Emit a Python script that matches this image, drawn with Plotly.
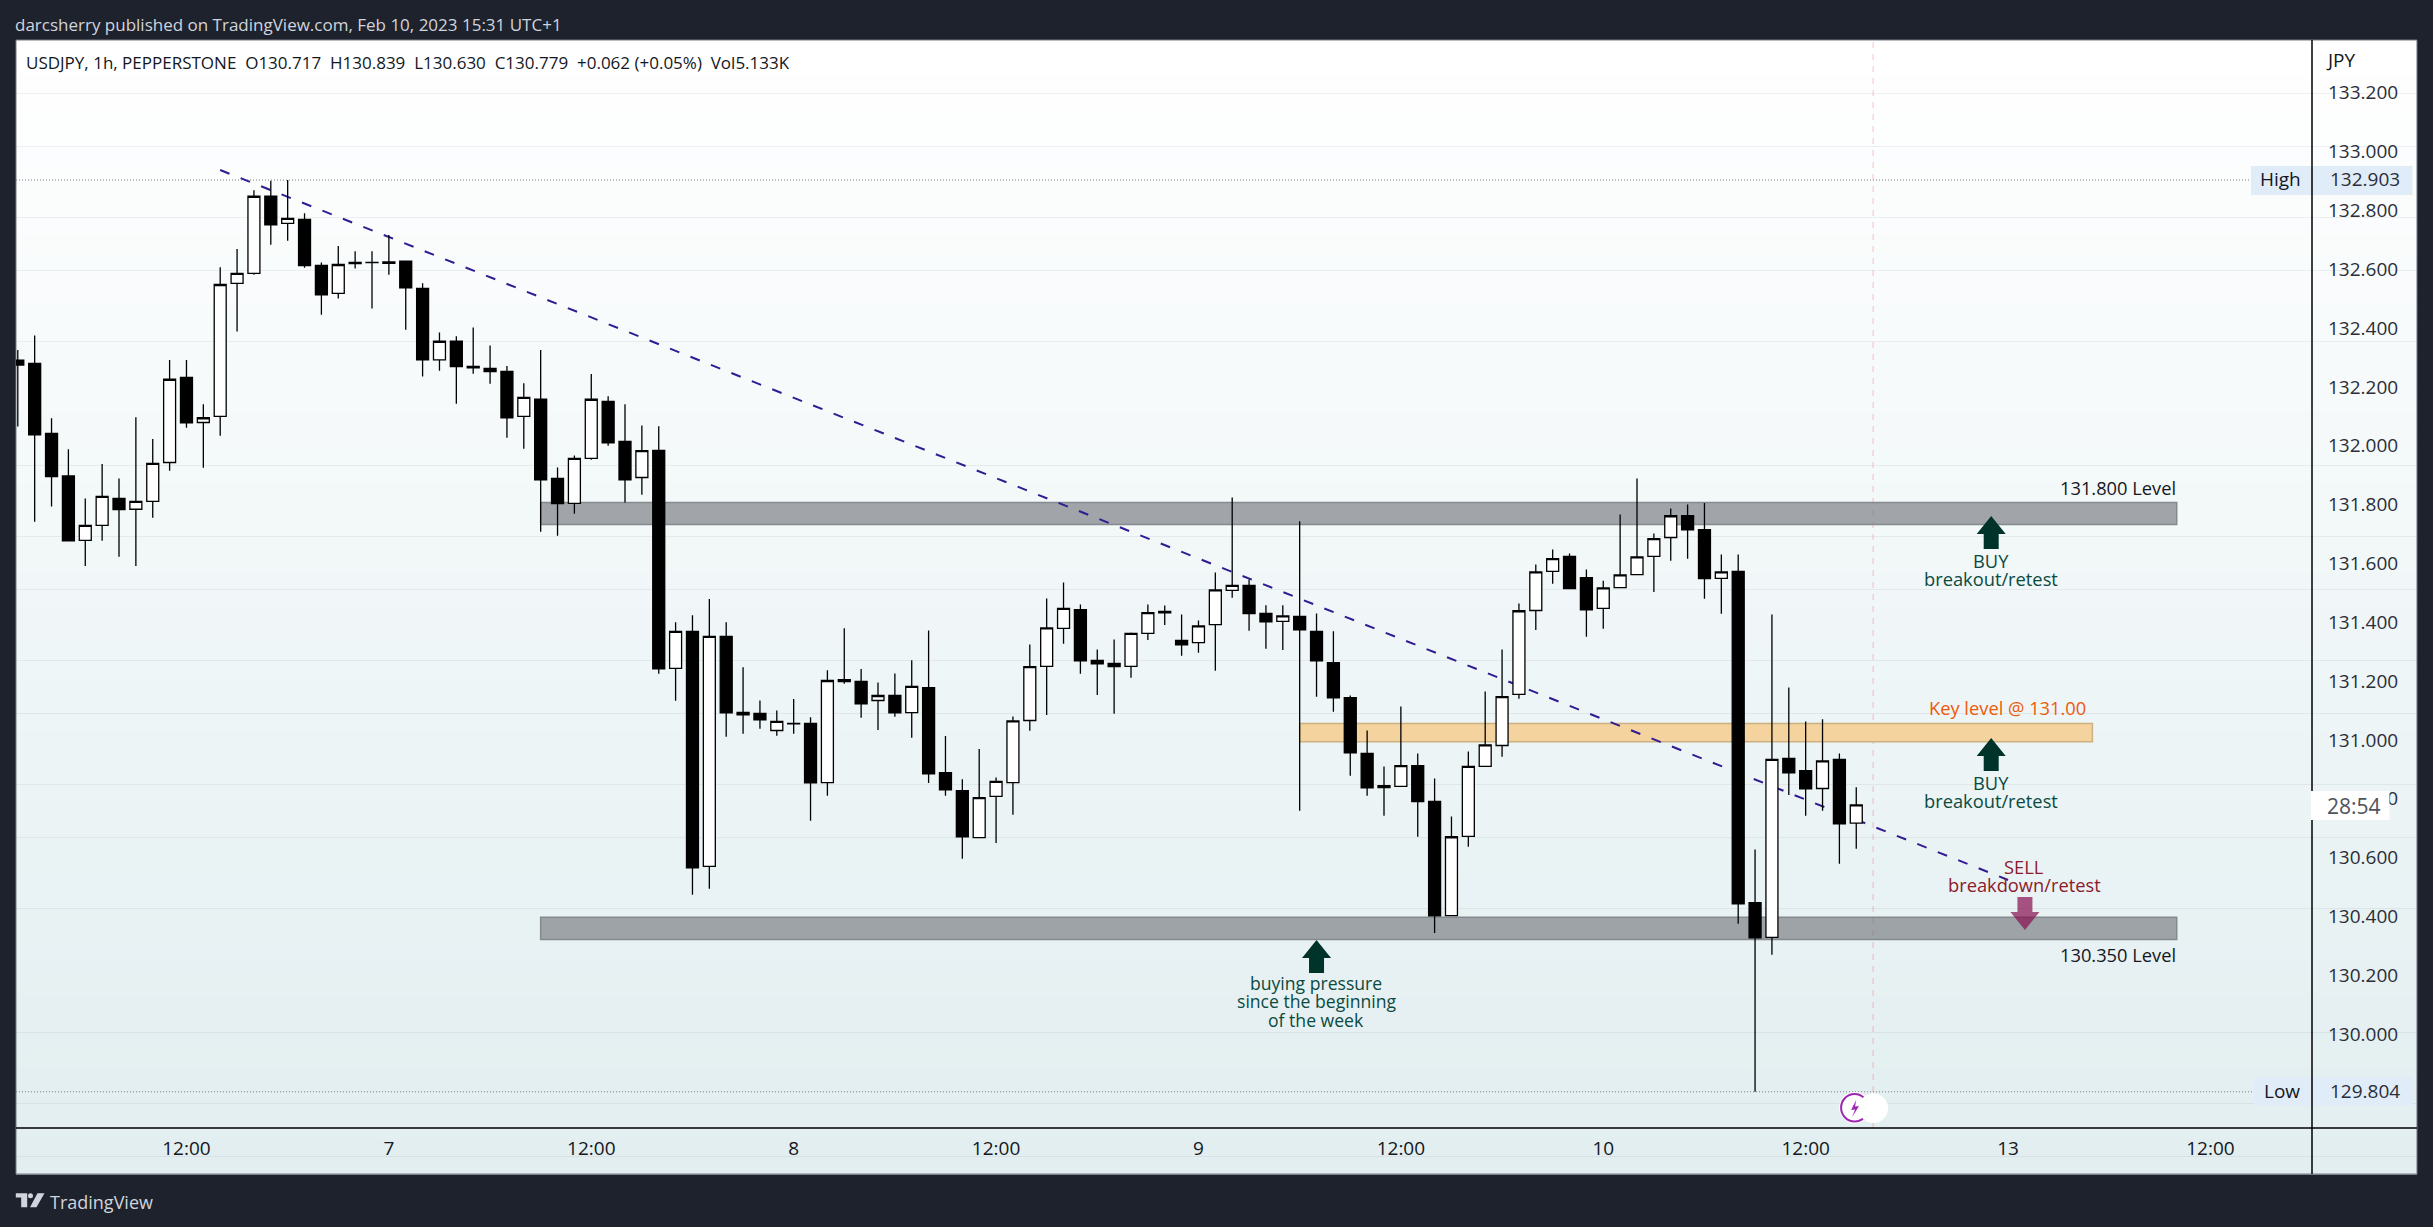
import plotly.graph_objects as go

bar_hours = list(range(-10, 100))
opens = [132.291,132.280,132.042,131.897,131.678,131.729,131.821,131.784,131.811,131.943,
132.232,132.079,132.100,132.552,132.586,132.848,132.756,132.769,132.613,132.518,
132.623,132.623,132.620,132.627,132.535,132.292,132.355,132.270,132.263,132.253,
132.100,132.158,131.889,131.804,131.957,132.151,132.015,131.892,131.984,131.243,
131.369,130.570,131.352,131.094,131.090,131.032,131.056,131.056,130.855,131.205,
131.199,131.134,131.151,131.093,131.178,130.889,130.828,130.668,130.808,130.855,
131.066,131.250,131.379,131.443,131.270,131.260,131.250,131.362,131.437,131.338,
131.331,131.392,131.508,131.525,131.430,131.403,131.420,131.369,131.263,131.144,
130.954,130.838,130.842,130.913,130.791,130.403,130.672,130.910,130.981,131.155,
131.440,131.573,131.624,131.552,131.447,131.518,131.562,131.624,131.688,131.762,
131.715,131.549,131.573,130.447,130.329,130.937,130.896,130.835,130.934,130.717]
highs = [132.325,132.375,132.093,131.988,131.821,131.938,131.889,132.097,132.023,132.291,
132.291,132.141,132.607,132.669,132.868,132.901,132.903,132.790,132.623,132.679,
132.661,132.661,132.716,132.627,132.552,132.385,132.372,132.402,132.341,132.271,
132.212,132.325,131.926,131.967,132.244,132.168,132.141,132.069,132.066,131.400,
131.424,131.479,131.400,131.247,131.134,131.100,131.139,131.077,131.237,131.380,
131.241,131.195,131.226,131.271,131.372,131.013,130.866,130.969,130.872,131.080,
131.324,131.481,131.535,131.460,131.307,131.341,131.365,131.460,131.457,131.426,
131.406,131.569,131.824,131.545,131.458,131.458,131.743,131.430,131.369,131.151,
131.032,130.910,131.114,130.954,130.869,130.740,130.961,131.165,131.307,131.464,
131.596,131.647,131.634,131.579,131.541,131.766,131.889,131.702,131.787,131.800,
131.805,131.630,131.630,130.628,131.426,131.178,131.063,131.070,130.954,130.839]
lows = [132.065,131.742,131.793,131.677,131.591,131.677,131.623,131.591,131.755,131.915,
132.061,131.925,132.034,132.388,132.581,132.683,132.697,132.605,132.445,132.500,
132.602,132.466,132.581,132.394,132.235,132.255,132.143,132.245,132.211,132.027,
131.990,131.708,131.694,131.769,131.952,132.000,131.807,131.833,131.225,131.133,
130.474,130.494,131.011,131.021,131.038,131.014,131.021,130.725,130.810,131.191,
131.075,131.034,131.079,131.007,130.854,130.810,130.596,130.668,130.650,130.746,
131.031,131.085,131.327,131.225,131.153,131.089,131.211,131.340,131.391,131.286,
131.296,131.235,131.483,131.371,131.310,131.306,130.759,131.147,131.096,130.878,
130.810,130.742,130.841,130.671,130.344,130.403,130.637,130.909,130.943,131.140,
131.374,131.531,131.514,131.351,131.378,131.518,131.562,131.503,131.609,131.616,
131.480,131.429,130.375,129.804,130.270,130.813,130.742,130.759,130.579,130.630]
closes = [132.274,132.037,131.895,131.677,131.729,131.828,131.783,131.811,131.940,132.226,
132.078,132.095,132.548,132.586,132.848,132.751,132.773,132.612,132.513,132.616,
132.619,132.622,132.625,132.537,132.292,132.355,132.269,132.265,132.252,132.095,
132.164,131.884,131.803,131.957,132.158,132.010,131.884,131.983,131.242,131.369,
130.565,131.352,131.092,131.085,131.068,131.063,131.055,130.854,131.202,131.198,
131.123,131.151,131.092,131.182,130.885,130.830,130.671,130.804,130.859,131.065,
131.249,131.381,131.447,131.269,131.259,131.249,131.362,131.433,131.432,131.323,
131.388,131.510,131.525,131.429,131.401,131.422,131.374,131.269,131.143,130.956,
130.837,130.845,130.913,130.790,130.402,130.671,130.910,130.983,131.147,131.439,
131.571,131.616,131.514,131.442,131.517,131.561,131.622,131.684,131.762,131.714,
131.548,131.571,130.443,130.327,130.934,130.888,130.834,130.929,130.715,130.779]

x_tick_hours = [0, 12, 24, 36, 48, 60, 72, 84, 96, 108, 120]
x_tick_labels = ["12:00", "7", "12:00", "8", "12:00", "9", "12:00", "10", "12:00", "13", "12:00"]
y_tick_vals = [133.2, 133.0, 132.8, 132.6, 132.4, 132.2, 132.0, 131.8, 131.6, 131.4,
               131.2, 131.0, 130.8, 130.6, 130.4, 130.2, 130.0]
y_tick_labels = ["133.200", "133.000", "132.800", "132.600", "132.400", "132.200", "132.000",
                 "131.800", "131.600", "131.400", "131.200", "131.000", "130.800", "130.600",
                 "130.400", "130.200", "130.000"]

high_price, low_price = 132.903, 129.804
upper_zone, key_zone, lower_zone = (131.732, 131.807), (130.994, 131.056), (130.322, 130.397)
trend_hours, trend_prices = (2, 108), (132.937, 130.524)

W, H = 2433, 1227
L, R, T, B = 15.5, 2312, 40, 1128
FONT = "Open Sans"
INK = "#131722"

def px(x): return (x - L) / (R - L)
def py(y): return 1 - (y - T) / (B - T)
def paper_path(cmds):
    out = []
    for c in cmds:
        if len(c) == 1:
            out.append(c[0])
        else:
            out.append(f"{c[0]} {px(c[1]):.5f} {py(c[2]):.5f}")
    return " ".join(out)

shapes = []
# widget gradient
steps = 64
top_c, bot_c = (255, 255, 255), (226, 238, 240)
for i in range(steps):
    f = i / (steps - 1)
    col = tuple(round(a + (b - a) * f) for a, b in zip(top_c, bot_c))
    y0 = T + (1174 - T) * i / steps
    y1 = T + (1174 - T) * (i + 1) / steps + 0.5
    shapes.append(dict(type="rect", xref="paper", yref="paper", layer="below", x0=px(L), x1=px(2417),
                       y0=py(y0), y1=py(y1), fillcolor=f"rgb{col}", line_width=0))
shapes.append(dict(type="rect", xref="paper", yref="paper", layer="below", x0=px(L), x1=px(2417),
                   y0=py(T), y1=py(1174), line=dict(color="#787b86", width=1)))

def band(h0, h1, zone, fill, edge):
    return dict(type="rect", layer="below", xref="x", yref="y", x0=h0, x1=h1, y0=zone[0], y1=zone[1],
                fillcolor=fill, line=dict(color=edge, width=1.5))
shapes += [band(21, 118, upper_zone, "rgba(107,110,116,0.6)", "#858a8f"),
           band(21, 118, lower_zone, "rgba(107,110,116,0.6)", "#858a8f"),
           band(66, 113, key_zone, "#f5d39e", "#cbb17f")]
shapes.append(dict(type="line", layer="below", xref="x", yref="paper", x0=100, x1=100, y0=0, y1=1,
                   line=dict(color="rgba(242,54,69,0.2)", width=1.5, dash="6px,6px")))
shapes.append(dict(type="line", layer="below", xref="paper", yref="y", x0=0, x1=px(2251),
                   y0=high_price, y1=high_price, line=dict(color="#787b86", width=1, dash="1px,2px")))
shapes.append(dict(type="line", layer="below", xref="paper", yref="y", x0=0, x1=px(2254),
                   y0=low_price, y1=low_price, line=dict(color="#787b86", width=1, dash="1px,2px")))
shapes.append(dict(type="line", layer="below", xref="x", yref="y", x0=trend_hours[0], x1=trend_hours[1],
                   y0=trend_prices[0], y1=trend_prices[1],
                   line=dict(color="#311b92", width=2, dash="10px,12px")))

def arrow(h, price, color, up=True):
    s = 1 if up else -1
    pts = [(-7.5, 0), (-7.5, 15), (-14.5, 15), (0, 33), (14.5, 15), (7.5, 15), (7.5, 0)]
    d = "M " + " L ".join(f"{a} {s * b}" for a, b in pts) + " Z"
    return dict(type="path", layer="above", xref="x", yref="y", xsizemode="pixel", ysizemode="pixel",
                xanchor=h, yanchor=price, path=d, fillcolor=color, line_width=0)
shapes += [arrow(107, 131.649, "#00332a"), arrow(107, 130.894, "#00332a"), arrow(67, 130.208, "#00332a"),
           arrow(109, 130.466, "rgba(136,14,79,0.7)", up=False)]

# price-axis label boxes and countdown
for x0, x1, y0, y1 in [(2251, 2412.5, 166, 195), (2254, 2412.5, 1077, 1106)]:
    shapes.append(dict(type="rect", layer="above", xref="paper", yref="paper", x0=px(x0), x1=px(x1),
                       y0=py(y0), y1=py(y1), fillcolor="#e1ecf9", line_width=0))
# frame lines
shapes.append(dict(type="line", layer="above", xref="paper", yref="paper", x0=1, x1=1, y0=py(1174), y1=1,
                   line=dict(color="#000000", width=1.5)))
shapes.append(dict(type="line", layer="above", xref="paper", yref="paper", x0=0, x1=px(2417), y0=0, y1=0,
                   line=dict(color="#000000", width=1.5)))
shapes.append(dict(type="rect", layer="above", xref="paper", yref="paper", x0=px(2311), x1=px(2389.5),
                   y0=py(791), y1=py(820), fillcolor="#ffffff", line_width=0))
# lightning badge
shapes.append(dict(type="circle", layer="above", xref="paper", yref="paper", x0=px(1839), x1=px(1870),
                   y0=py(1092), y1=py(1123.5), fillcolor="#ffffff", line_width=0))
shapes.append(dict(type="circle", layer="above", xref="paper", yref="paper", x0=px(1841), x1=px(1868),
                   y0=py(1094), y1=py(1121.5), fillcolor="#ffffff", line=dict(color="#9c27b0", width=2)))
shapes.append(dict(type="path", layer="above", xref="paper", yref="paper",
                   path=paper_path([("M", 1856, 1100), ("L", 1851, 1110), ("L", 1855, 1109.5), ("L", 1852, 1117),
                                    ("L", 1859, 1106), ("L", 1855, 1106.5), ("Z",)]),
                   fillcolor="#9c27b0", line_width=0))
shapes.append(dict(type="circle", layer="above", xref="paper", yref="paper", x0=px(1858.5), x1=px(1888),
                   y0=py(1093.5), y1=py(1123), fillcolor="#ffffff", line_width=0))
# TradingView mark
logo = "#d1d4dc"
shapes.append(dict(type="path", layer="above", xref="paper", yref="paper",
                   path=paper_path([("M", 15.3, 1193.3), ("L", 26.7, 1193.3), ("L", 26.7, 1207.3), ("L", 20.7, 1207.3),
                                    ("L", 20.7, 1197.6), ("L", 15.3, 1197.6), ("Z",),
                                    ("M", 37, 1193.3), ("L", 44, 1193.3), ("L", 36, 1207.3), ("L", 29.5, 1207.3), ("Z",)]),
                   fillcolor=logo, line_width=0))
shapes.append(dict(type="circle", layer="above", xref="paper", yref="paper", x0=px(27.5), x1=px(32.5),
                   y0=py(1193.3), y1=py(1198.3), fillcolor=logo, line_width=0))

def label(x, y, text, color=INK, size=18.3, anchor="center"):
    return dict(xref="paper", yref="paper", x=px(x), y=py(y), text=text, showarrow=False,
                xanchor=anchor, yanchor="middle", font=dict(family=FONT, size=size, color=color))

GREEN = "#0b4a3f"
RED = "#8b1a2b"
nb = "\u00a0\u00a0"
annotations = [
    label(12.5, 24, "darcsherry published on TradingView.com, Feb 10, 2023 15:31 UTC+1", "#d1d4dc", 17, "left"),
    label(24, 63, f"USDJPY, 1h, PEPPERSTONE{nb}O130.717{nb}H130.839{nb}L130.630{nb}C130.779{nb}+0.062 (+0.05%){nb}Vol5.133K",
          INK, 17, "left"),
    label(2178, 487, "131.800 Level", anchor="right"),
    label(2178, 954.5, "130.350 Level", anchor="right"),
    label(2007, 707.5, "Key level @ 131.00", "#ed5a0a"),
    label(1991, 560, "BUY", GREEN), label(1991, 578.5, "breakout/retest", GREEN),
    label(1991, 782, "BUY", GREEN), label(1991, 800.5, "breakout/retest", GREEN),
    label(2024, 866.5, "SELL", RED), label(2024, 884.5, "breakdown/retest", RED),
    label(1316, 982.5, "buying pressure", GREEN, 17.6), label(1316, 1001, "since the beginning", GREEN, 17.6),
    label(1316, 1019.5, "of the week", GREEN, 17.6),
    label(2324, 60, "JPY", INK, 19, "left"),
    label(2280, 179.5, "High", INK, 19), label(2365, 179.5, f"{high_price:.3f}", "#2a2e39", 19),
    label(2282, 1091, "Low", INK, 19), label(2365, 1091, f"{low_price:.3f}", "#2a2e39", 19),
    label(2354, 806, "28:54", "#50535e", 21),
    label(48, 1201.5, "TradingView", logo, 18, "left"),
]

fig = go.Figure(go.Candlestick(
    x=bar_hours, open=opens, high=highs, low=lows, close=closes,
    whiskerwidth=0, line_width=1.3,
    increasing=dict(fillcolor="#ffffff", line=dict(color="#000000", width=1.3)),
    decreasing=dict(fillcolor="#000000", line=dict(color="#000000", width=1.3)),
    showlegend=False, hoverinfo="skip"))

fig.update_layout(
    width=W, height=H, autosize=False, showlegend=False,
    margin=dict(l=L, r=W - R, t=T, b=H - B, pad=0),
    paper_bgcolor="#1e222d", plot_bgcolor="rgba(0,0,0,0)",
    boxgap=0.29, boxgroupgap=0,
    shapes=shapes, annotations=annotations,
    font=dict(family=FONT, color=INK),
    xaxis=dict(range=[-10.107, 126.02], rangeslider=dict(visible=False), tickmode="array",
               tickvals=x_tick_hours, ticktext=x_tick_labels, showgrid=False, zeroline=False,
               showline=False, ticks="", ticklabelstandoff=7, tickfont=dict(family=FONT, size=19, color=INK)),
    yaxis=dict(range=[129.681, 133.379], side="right", tickmode="array", tickvals=y_tick_vals,
               ticktext=y_tick_labels, showgrid=False, zeroline=False, showline=False, ticks="",
               ticklabelstandoff=15, tickfont=dict(family=FONT, size=19, color="#2a2e39")),
)

fig.write_html("out.html", config=dict(displayModeBar=False),
               post_script="document.body.style.margin='0';document.body.style.background='#1e222d';")
